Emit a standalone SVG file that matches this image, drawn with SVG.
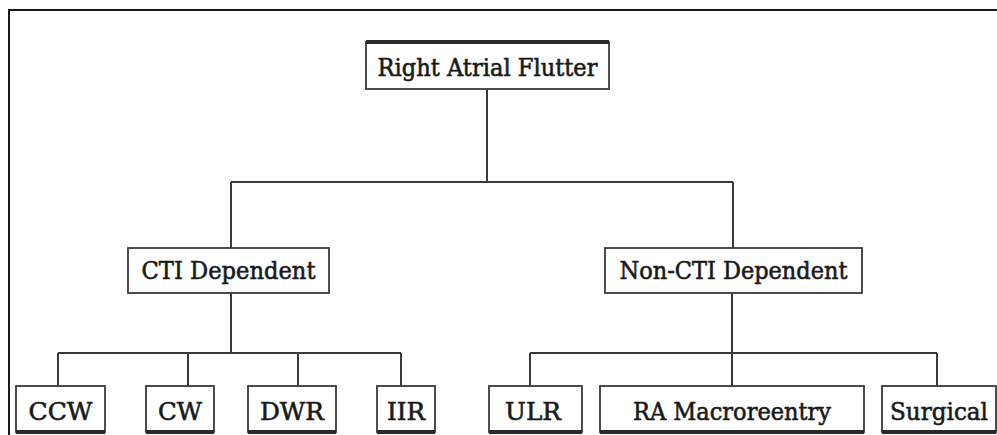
<svg xmlns="http://www.w3.org/2000/svg" width="997" height="435" viewBox="0 0 997 435">
  <style>
    .box { fill: #ffffff; stroke: #3a3a3a; stroke-width: 1.8; }
    .heavy { stroke: #2a2a2a; stroke-width: 4; }
    .label { font-family: 'DejaVu Serif', serif; font-size: 24px; fill: #1a1a1a; stroke: #1a1a1a; stroke-width: 0.6; text-anchor: middle; }
    .link { fill: none; stroke: #3a3a3a; stroke-width: 2; }
    .frame { fill: none; stroke: #1a1a1a; stroke-width: 2; }
  </style>
  <rect width="997" height="435" fill="#ffffff"/>
  <!-- outer frame (top and left edges visible) -->
  <path class="frame" d="M9,440 V10 H1000"/>

  <g id="connectors">
    <path class="link" d="M487,89 V182 M231,182 H733 M231,182 V248 M733,182 V248"/>
    <path class="link" d="M231,293 V353 M58,353 H401 M58,353 V386 M188,353 V386 M298,353 V386 M401,353 V386"/>
    <path class="link" d="M732,293 V353 M530,353 H937 M530,353 V386 M732,353 V386 M937,353 V386"/>
  </g>

  <g id="right-atrial-flutter">
    <rect class="box" x="366" y="42" width="243" height="47"/>
    <path class="heavy" d="M366,42 H609"/>
    <text class="label" x="487.5" y="76" textLength="220" lengthAdjust="spacingAndGlyphs">Right Atrial Flutter</text>
  </g>

  <g id="cti-dependent">
    <rect class="box" x="128" y="248" width="201" height="45"/>
    <text class="label" x="228.5" y="279" textLength="174" lengthAdjust="spacingAndGlyphs">CTI Dependent</text>
  </g>

  <g id="non-cti-dependent">
    <rect class="box" x="605" y="248" width="257" height="45"/>
    <text class="label" x="733.5" y="279" textLength="228" lengthAdjust="spacingAndGlyphs">Non-CTI Dependent</text>
  </g>

  <g id="ccw">
    <rect class="box" x="16" y="386" width="89" height="46"/>
    <path class="heavy" d="M16,432 H105"/>
    <text class="label" x="60.5" y="420" textLength="64" lengthAdjust="spacingAndGlyphs">CCW</text>
  </g>

  <g id="cw">
    <rect class="box" x="146" y="386" width="68" height="46"/>
    <path class="heavy" d="M146,432 H214"/>
    <text class="label" x="180" y="420" textLength="44" lengthAdjust="spacingAndGlyphs">CW</text>
  </g>

  <g id="dwr">
    <rect class="box" x="248" y="386" width="88" height="46"/>
    <path class="heavy" d="M248,432 H336"/>
    <text class="label" x="292" y="420" textLength="64" lengthAdjust="spacingAndGlyphs">DWR</text>
  </g>

  <g id="iir">
    <rect class="box" x="377" y="386" width="58" height="46"/>
    <path class="heavy" d="M377,432 H435"/>
    <text class="label" x="406" y="420" textLength="38" lengthAdjust="spacingAndGlyphs">IIR</text>
  </g>

  <g id="ulr">
    <rect class="box" x="489" y="386" width="93" height="46"/>
    <path class="heavy" d="M489,432 H582"/>
    <text class="label" x="533" y="420" textLength="56" lengthAdjust="spacingAndGlyphs">ULR</text>
  </g>

  <g id="ra-macroreentry">
    <rect class="box" x="600" y="386" width="264" height="46"/>
    <path class="heavy" d="M600,432 H864"/>
    <text class="label" x="732" y="420" textLength="198" lengthAdjust="spacingAndGlyphs">RA Macroreentry</text>
  </g>

  <g id="surgical">
    <rect class="box" x="882" y="386" width="114" height="46"/>
    <path class="heavy" d="M882,432 H996"/>
    <text class="label" x="939" y="420" textLength="98" lengthAdjust="spacingAndGlyphs">Surgical</text>
  </g>
</svg>
